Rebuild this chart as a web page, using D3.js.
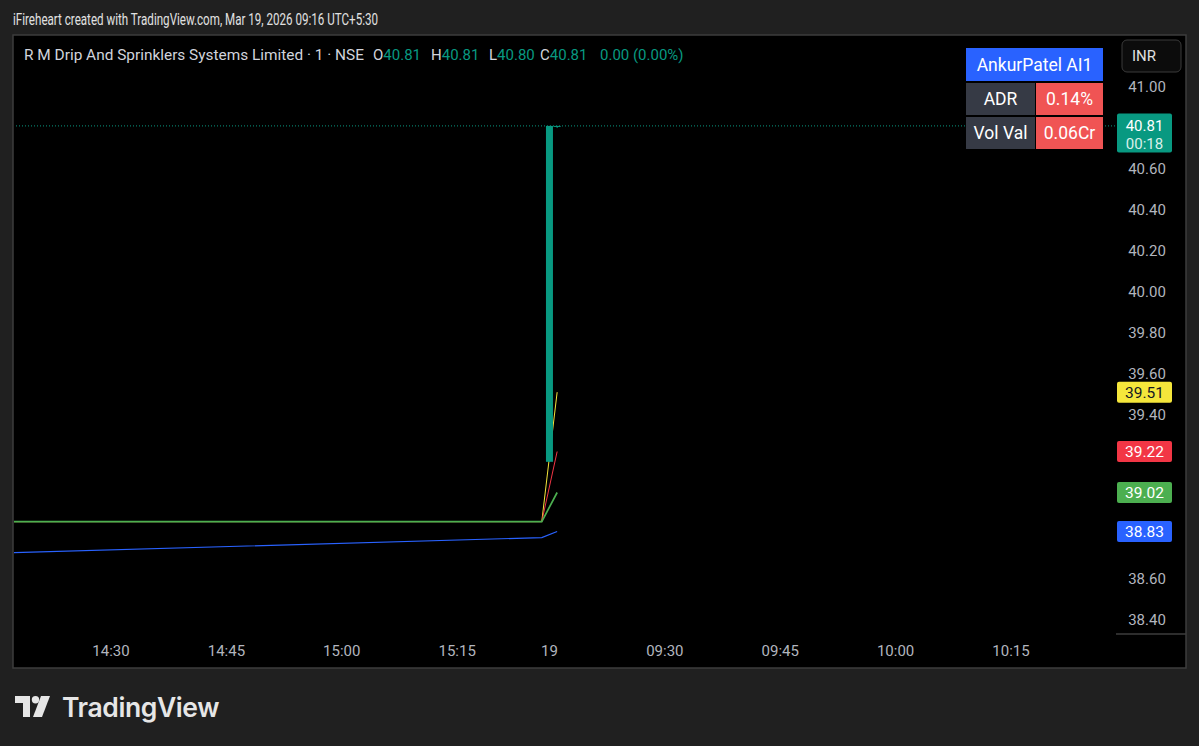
<!DOCTYPE html>
<html><head><meta charset="utf-8">
<script src="https://cdn.jsdelivr.net/npm/d3@7"></script>
<style>
html,body{margin:0;padding:0;background:#202020;}
svg{display:block;}
text{font-family:Roboto,"Open Sans",sans-serif;}
</style></head>
<body>
<svg id="c" width="1199" height="746"></svg>
<script>
// ---- data ----
const headerText = "iFireheart created with TradingView.com, Mar 19, 2026 09:16 UTC+5:30";
const symbolText = "R M Drip And Sprinklers Systems Limited · 1 · NSE";
const ohlcKeys = ["O","H","L","C"];
const ohlcVals = ["40.81","40.81","40.80","40.81"];
const changeText = "0.00 (0.00%)";
const timeLabels = ["14:30","14:45","15:00","15:15","19","09:30","09:45","10:00","10:15"];
const timeTickIdx = [0,15,30,45,57,72,87,102,117];
const priceTicks = [41.0,40.6,40.4,40.2,40.0,39.8,39.6,39.4,38.6,38.4];
// candles: index, open, high, low, close
const candleIdx = [57,58];
const candleOpen = [39.17,40.81];
const candleHigh = [40.81,40.81];
const candleLow = [39.17,40.80];
const candleClose = [40.81,40.81];
const lastPrice = 40.81;
const lastTimer = "00:18";
// indicator lines
const lineIdx = [-14,56,58];
const yellowLine = [38.878,38.878,39.51];
const redLine = [38.878,38.878,39.22];
const greenLine = [38.878,38.878,39.02];
const blueLine = [38.725,38.80,38.83];
const lineNames = ["yellow","red","green","blue"];
const lineColors = ["#f5e63b","#f23645","#4caf50","#2962ff"];
const lineLabelText = ["#131722","#ffffff","#ffffff","#ffffff"];
const tableTitle = "AnkurPatel AI1";
const tableKeys = ["ADR","Vol Val"];
const tableVals = ["0.14%","0.06Cr"];

// ---- layout ----
const svg = d3.select("#c");
const P = {l:13, t:35, r:1186, b:668, plotR:1116, timeTop:633};
const x = d3.scaleLinear().domain([0,117]).range([111,1011]);
const y = d3.scaleLinear().domain([38.4,41.0]).range([619.5,87]);

svg.append("rect").attr("width",1199).attr("height",746).attr("fill","#202020");
svg.append("text").attr("x",13).attr("y",24.5).attr("fill","#e0e0e0").attr("font-size",17)
  .attr("textLength",365).attr("lengthAdjust","spacingAndGlyphs")
  .text(headerText);

// panel
svg.append("rect").attr("x",P.l).attr("y",P.t).attr("width",P.r-P.l).attr("height",P.b-P.t)
  .attr("fill","#000").attr("stroke","#3c3c3c").attr("stroke-width",1.5);

svg.append("clipPath").attr("id","plotclip").append("rect")
  .attr("x",P.l+1).attr("y",P.t+1).attr("width",P.plotR-P.l-1).attr("height",P.timeTop-P.t-1);
const plot = svg.append("g").attr("clip-path","url(#plotclip)");

// last price dotted line
plot.append("line").attr("x1",P.l).attr("x2",P.plotR).attr("y1",y(lastPrice)).attr("y2",y(lastPrice))
  .attr("stroke","#089981").attr("stroke-width",1).attr("stroke-dasharray","1 2");

// indicator lines
const lineData = [yellowLine,redLine,greenLine,blueLine];
const lineWidths = [1,1,1.7,1.2];
const lineGen = d3.line().x((d,i)=>x(lineIdx[i])).y(d=>y(d));
[3,0,1,2].forEach(k=>{
  plot.append("path").datum(lineData[k]).attr("d",lineGen).attr("fill","none")
    .attr("stroke",lineColors[k]).attr("stroke-width",lineWidths[k]);
});

// candles
const bw = 7;
candleIdx.forEach((ci,i)=>{
  const up = candleClose[i]>=candleOpen[i];
  const col = up? "#089981":"#f23645";
  plot.append("line").attr("x1",x(ci)).attr("x2",x(ci)).attr("y1",y(candleHigh[i])).attr("y2",y(candleLow[i]))
    .attr("stroke",col).attr("stroke-width",1);
  const top = y(Math.max(candleOpen[i],candleClose[i]));
  const bot = y(Math.min(candleOpen[i],candleClose[i]));
  plot.append("rect").attr("x",x(ci)-bw/2).attr("y",top).attr("width",bw).attr("height",Math.max(1,bot-top))
    .attr("fill",col);
});

// price axis ticks
const axisG = svg.append("g");
priceTicks.forEach(v=>{
  axisG.append("text").attr("x",1147).attr("y",y(v)).attr("dy","0.35em").attr("text-anchor","middle")
    .attr("fill","#b2b5be").attr("font-size",15).text(d3.format(".2f")(v));
});
// corner separator
svg.append("line").attr("x1",P.plotR).attr("x2",P.r).attr("y1",P.timeTop+1).attr("y2",P.timeTop+1)
  .attr("stroke","#3c3c3c").attr("stroke-width",1.5);

// time axis labels
timeLabels.forEach((t,i)=>{
  svg.append("text").attr("x",x(timeTickIdx[i])).attr("y",651).attr("dy","0.35em").attr("text-anchor","middle")
    .attr("fill","#b2b5be").attr("font-size",15).text(t);
});

// line labels on price axis
const lastVals = [yellowLine[2],redLine[2],greenLine[2],blueLine[2]];
lastVals.forEach((v,k)=>{
  const cy = y(v);
  axisG.append("rect").attr("x",1117).attr("y",cy-10.5).attr("width",55).attr("height",21).attr("rx",2)
    .attr("fill",lineColors[k]);
  axisG.append("text").attr("x",1144.5).attr("y",cy).attr("dy","0.36em").attr("text-anchor","middle")
    .attr("fill",lineLabelText[k]).attr("font-size",15.5).text(d3.format(".2f")(v));
});
// last price label
{
  const cy = y(lastPrice);
  axisG.append("rect").attr("x",1117).attr("y",cy-12.5).attr("width",55).attr("height",39).attr("rx",2)
    .attr("fill","#089981");
  axisG.append("text").attr("x",1144.5).attr("y",cy).attr("dy","0.36em").attr("text-anchor","middle")
    .attr("fill","#fff").attr("font-size",15).text(d3.format(".2f")(lastPrice));
  axisG.append("text").attr("x",1144.5).attr("y",cy+18).attr("dy","0.36em").attr("text-anchor","middle")
    .attr("fill","#d8f0ea").attr("font-size",15).text(lastTimer);
}

// INR box
svg.append("rect").attr("x",1122).attr("y",40).attr("width",59).attr("height",32).attr("rx",5)
  .attr("fill","#0c0c0c").attr("stroke","#3a3a3a");
svg.append("text").attr("x",1144).attr("y",56).attr("dy","0.35em").attr("text-anchor","middle")
  .attr("fill","#e0e0e0").attr("font-size",15).text("INR");

// legend
const lgY = 55;
svg.append("text").attr("x",24).attr("y",lgY).attr("dy","0.35em").attr("font-size",15)
  .attr("fill","#d1d4dc").attr("textLength",340).attr("lengthAdjust","spacingAndGlyphs").text(symbolText);
const ohlcX = [373,431,489,540];
ohlcKeys.forEach((k,i)=>{
  const t = svg.append("text").attr("x",ohlcX[i]).attr("y",lgY).attr("dy","0.35em").attr("font-size",15);
  t.append("tspan").attr("fill","#d1d4dc").text(k);
  t.append("tspan").attr("fill","#089981").text(ohlcVals[i]);
});
svg.append("text").attr("x",600).attr("y",lgY).attr("dy","0.35em").attr("font-size",15)
  .attr("fill","#089981").text(changeText);

// table
const tb = svg.append("g");
tb.append("rect").attr("x",966).attr("y",48).attr("width",137).attr("height",33).attr("fill","#2962ff");
tb.append("text").attr("x",1034.5).attr("y",65).attr("dy","0.35em").attr("text-anchor","middle")
  .attr("fill","#fff").attr("font-size",17.5).text(tableTitle);
tableKeys.forEach((k,i)=>{
  const ty = 83 + i*34;
  tb.append("rect").attr("x",966).attr("y",ty).attr("width",69).attr("height",32).attr("fill","#363a45");
  tb.append("rect").attr("x",1036).attr("y",ty).attr("width",67).attr("height",32).attr("fill","#f05454");
  tb.append("text").attr("x",1000.5).attr("y",ty+16).attr("dy","0.35em").attr("text-anchor","middle")
    .attr("fill","#fff").attr("font-size",17.5).text(k);
  tb.append("text").attr("x",1069.5).attr("y",ty+16).attr("dy","0.35em").attr("text-anchor","middle")
    .attr("fill","#fff").attr("font-size",17.5).text(tableVals[i]);
});

// TradingView logo
const logo = svg.append("g").attr("transform","translate(15,696)").attr("fill","#e6e6e6");
logo.append("path").attr("d","M0,0 H15 V21 H8 V7 H0 Z");
logo.append("circle").attr("cx",20.5).attr("cy",3.7).attr("r",3.7);
logo.append("path").attr("d","M26,0 H35 L27,21 H18 Z");
svg.append("text").attr("x",62).attr("y",717).attr("fill","#e6e6e6").attr("font-size",26.5)
  .attr("font-weight","600").style("font-family","Inter,Lato,sans-serif").attr("letter-spacing","-0.4").text("TradingView");
</script>
</body></html>
